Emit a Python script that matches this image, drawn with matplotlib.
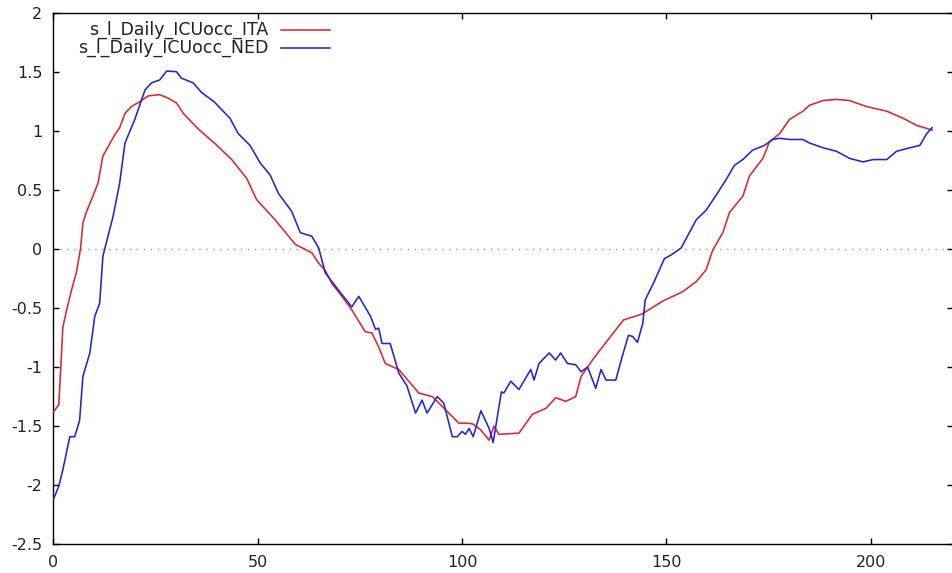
import matplotlib
matplotlib.use("Agg")
import matplotlib.pyplot as plt

plt.rcParams["font.family"] = ["DejaVu Sans"]
plt.rcParams["axes.unicode_minus"] = False

# Smoothed daily ICU occupancy (standardised), Italy
ita_day = [0, 1.3, 1.8, 2.3, 3.4, 4.4, 5.6, 6.6, 7.2, 8.0, 9.3, 10.9, 12.1, 13.4,
           15.0, 16.2, 17.5, 19.1, 21.1, 23.2, 26.0, 28.1, 30.1, 31.8, 35.4, 39.7,
           43.6, 47.3, 49.7, 54.2, 59.2, 63.2, 64.9, 66.5, 68.1, 70.6, 73.0, 76.3,
           77.9, 79.6, 81.2, 84.5, 89.4, 92.7, 95.9, 99.2, 100.8, 102.5, 104.5,
           106.6, 107.8, 109.0, 113.9, 117.2, 120.5, 122.9, 125.4, 127.8, 129.1,
           131.9, 135.2, 139.5, 144.0, 149.1, 154.0, 157.3, 159.7, 161.3, 163.8,
           165.4, 168.7, 170.3, 173.6, 175.2, 177.7, 180.1, 183.4, 185.0, 188.3,
           191.6, 194.8, 198.9, 203.9, 207.9, 211.2, 215.0]
ita_val = [-1.38, -1.32, -1.00, -0.66, -0.49, -0.35, -0.20, 0.00, 0.22, 0.31, 0.42,
           0.56, 0.79, 0.87, 0.97, 1.03, 1.15, 1.21, 1.25, 1.30, 1.31, 1.28, 1.24,
           1.15, 1.02, 0.89, 0.76, 0.60, 0.42, 0.25, 0.04, -0.03, -0.12, -0.18,
           -0.29, -0.40, -0.515, -0.70, -0.71, -0.83, -0.97, -1.02, -1.22, -1.25,
           -1.36, -1.475, -1.475, -1.48, -1.53, -1.62, -1.50, -1.57, -1.56, -1.40,
           -1.35, -1.26, -1.29, -1.25, -1.08, -0.94, -0.79, -0.60, -0.55, -0.44,
           -0.36, -0.275, -0.175, -0.01, 0.14, 0.31, 0.45, 0.62, 0.77, 0.91, 0.98,
           1.10, 1.17, 1.22, 1.26, 1.27, 1.26, 1.21, 1.17, 1.11, 1.05, 1.01]

# Smoothed daily ICU occupancy (standardised), Netherlands
ned_day = [0, 1.3, 2.3, 4.0, 5.2, 6.4, 7.2, 8.9, 10.1, 11.3, 12.1, 12.9, 14.6,
           16.2, 17.5, 19.9, 22.4, 24.0, 26.0, 27.7, 30.1, 31.3, 34.2, 36.2, 39.3,
           43.2, 45.2, 48.1, 50.6, 53.0, 55.1, 58.3, 60.4, 63.2, 64.9, 66.5, 69.8,
           73.0, 74.7, 77.6, 78.8, 79.6, 80.4, 82.4, 84.5, 86.5, 88.6, 90.2, 91.4,
           93.9, 95.5, 97.6, 98.8, 100.0, 100.8, 101.7, 102.7, 104.6, 106.6, 107.6,
           109.6, 110.2, 111.9, 113.9, 116.8, 117.6, 118.8, 121.3, 122.9, 124.1,
           125.8, 127.8, 129.1, 130.7, 132.7, 134.0, 135.2, 137.6, 139.1, 140.7,
           141.7, 142.9, 144.2, 144.8, 147.0, 149.5, 151.1, 153.6, 157.3, 159.7,
           162.2, 164.6, 166.6, 168.7, 171.1, 174.0, 176.0, 177.7, 180.1, 183.4,
           185.0, 188.3, 191.6, 194.8, 198.1, 200.6, 203.9, 206.3, 209.6, 212.0,
           213.7, 215.0]
ned_val = [-2.12, -2.01, -1.87, -1.59, -1.59, -1.45, -1.08, -0.88, -0.57, -0.46,
           -0.06, 0.05, 0.28, 0.56, 0.90, 1.10, 1.35, 1.41, 1.435, 1.51, 1.505,
           1.45, 1.41, 1.33, 1.25, 1.11, 0.98, 0.88, 0.73, 0.63, 0.47, 0.32, 0.14,
           0.11, 0.01, -0.20, -0.35, -0.49, -0.40, -0.57, -0.68, -0.67, -0.80,
           -0.80, -1.05, -1.16, -1.39, -1.28, -1.39, -1.25, -1.305, -1.59, -1.59,
           -1.545, -1.57, -1.52, -1.59, -1.37, -1.52, -1.64, -1.21, -1.22, -1.12,
           -1.19, -1.02, -1.11, -0.97, -0.88, -0.94, -0.88, -0.97, -0.98, -1.04,
           -1.00, -1.18, -1.02, -1.11, -1.11, -0.92, -0.73, -0.74, -0.79, -0.63,
           -0.43, -0.275, -0.08, -0.05, 0.01, 0.25, 0.33, 0.46, 0.59, 0.71, 0.76,
           0.84, 0.88, 0.93, 0.94, 0.93, 0.93, 0.90, 0.86, 0.83, 0.77, 0.74, 0.76,
           0.76, 0.83, 0.86, 0.88, 0.98, 1.03]

labels = ["s_l_Daily_ICUocc_ITA", "s_l_Daily_ICUocc_NED"]
colors = ["#e3242b", "#2323dc"]

x_ticks = [0, 50, 100, 150, 200]
y_ticks = [-2.5, -2, -1.5, -1, -0.5, 0, 0.5, 1, 1.5, 2]

fig = plt.figure(figsize=(9.53, 5.73), dpi=100)
ax = fig.add_axes([0.0561, 0.0506, 0.9434, 0.9262])

ax.axhline(0, color="#9a9a9a", lw=1.0, ls=(0, (1, 4)), zorder=1)

ax.plot(ita_day, ita_val, color=colors[0], lw=1.15, zorder=3)
ax.plot(ned_day, ned_val, color=colors[1], lw=1.15, zorder=4)

ax.set_xlim(0, 220)
ax.set_ylim(-2.5, 2)
ax.set_xticks(x_ticks)
ax.set_yticks(y_ticks)
ax.set_yticklabels([f"{v:g}" for v in y_ticks])

for s in ax.spines.values():
    s.set_color("black")
    s.set_linewidth(1.0)

ax.tick_params(direction="in", length=4.5, width=1.0, top=True, right=True,
               labelsize=11.5, labelcolor="#222222", pad=8)

# Key, drawn gnuplot style: right-aligned text followed by a line sample
key_y = [0.969, 0.935]
for lab, col, ky in zip(labels, colors, key_y):
    ax.text(0.2386, ky, lab, transform=ax.transAxes, ha="right", va="center",
            fontsize=12.5, color="#222222")
    ax.plot([0.2536, 0.3076], [ky, ky], transform=ax.transAxes, color=col,
            lw=1.15, clip_on=False)

fig.savefig("out.png", dpi=100)
